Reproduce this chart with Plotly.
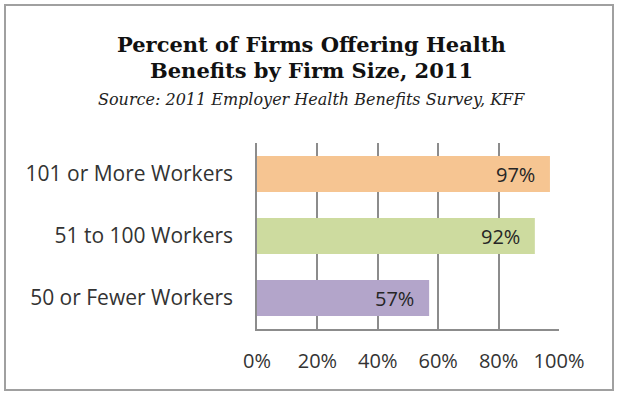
import plotly.graph_objects as go

categories = ["50 or Fewer Workers", "51 to 100 Workers", "101 or More Workers"]
values = [0.57, 0.92, 0.97]
value_labels = ["57%", "92%", "97%"]
bar_colors = ["#B3A5CA", "#CDDB9F", "#F6C592"]
tick_vals = [0, 0.2, 0.4, 0.6, 0.8, 1.0]
tick_text = ["0%", "20%", "40%", "60%", "80%", "100%"]

title_line1 = "Percent of Firms Offering Health"
title_line2 = "Benefits by Firm Size, 2011"
subtitle = "Source: 2011 Employer Health Benefits Survey, KFF"

W, H = 620, 397
L, R, T, B = 257, 61, 143, 68
plot_h = H - T - B
plot_w = W - L - R

def py(Y):
    return (H - B - Y) / plot_h

def px(X):
    return (X - L) / plot_w

sans = "Open Sans"
axis_font = dict(family=sans, size=21, color="#333333")

fig = go.Figure()
fig.add_trace(go.Bar(
    x=values, y=categories, orientation="h",
    marker=dict(color=bar_colors, line=dict(width=0)),
    hoverinfo="skip",
))

for v, c, t in zip(values, categories, value_labels):
    fig.add_annotation(x=v, y=c, xref="x", yref="y", text=t, showarrow=False,
                       xanchor="right", yanchor="middle", xshift=-13,
                       font=dict(family=sans, size=20, color="#262626"))

serif = "DejaVu Serif"
cx = px(311)
fig.add_annotation(x=cx, xref="paper", y=py(44), yref="paper", text="<b>" + title_line1 + "</b>",
                   showarrow=False, xanchor="center", yanchor="middle",
                   font=dict(family=serif, size=21, color="#111111"))
fig.add_annotation(x=cx, xref="paper", y=py(71), yref="paper", text="<b>" + title_line2 + "</b>",
                   showarrow=False, xanchor="center", yanchor="middle",
                   font=dict(family=serif, size=21, color="#111111"))
fig.add_annotation(x=cx, xref="paper", y=py(99), yref="paper", text="<i>" + subtitle + "</i>",
                   showarrow=False, xanchor="center", yanchor="middle",
                   font=dict(family=serif, size=16, color="#222222"))

fig.add_shape(type="rect", xref="paper", yref="paper",
              x0=px(5), x1=px(613), y0=py(390), y1=py(5),
              line=dict(color="#A0A0A0", width=2), layer="below")

fig.update_layout(
    width=W, height=H,
    margin=dict(l=L, r=R, t=T, b=B, pad=0),
    paper_bgcolor="white", plot_bgcolor="white",
    showlegend=False, bargap=0.42,
    xaxis=dict(range=[0, 1], tickvals=tick_vals, ticktext=tick_text,
               showgrid=True, gridcolor="#8C8C8C", gridwidth=1.5,
               showline=True, linecolor="#8C8C8C", linewidth=1.5,
               zeroline=False, ticks="", tickfont=dict(family=sans, size=20, color="#333333"),
               ticklabelstandoff=13, fixedrange=True),
    yaxis=dict(categoryorder="array", categoryarray=categories,
               showgrid=False, showline=True, linecolor="#8C8C8C", linewidth=1.5,
               ticks="", tickfont=axis_font, ticklabelstandoff=18, fixedrange=True),
)

fig.write_html("out.html", config={"displayModeBar": False},
               post_script="document.body.style.margin='0px';")
